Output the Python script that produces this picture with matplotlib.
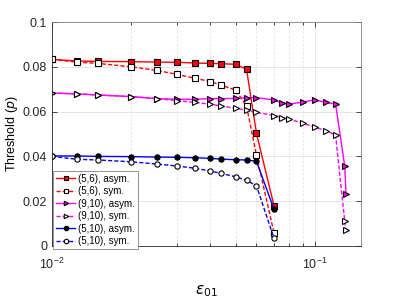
import matplotlib
matplotlib.use("agg")
import matplotlib.pyplot as plt
from matplotlib.ticker import LogLocator, FixedLocator, NullFormatter

plt.rcParams["font.family"] = ["Liberation Sans", "DejaVu Sans"]
plt.rcParams["mathtext.fontset"] = "dejavusans"

# epsilon_01 grid for the (5,6) and (5,10) codes
eps_a = [0.01, 0.0125, 0.015, 0.02, 0.025, 0.03, 0.035, 0.04, 0.044, 0.05, 0.055, 0.06, 0.07]
# epsilon_01 grid for the (9,10) code
eps_b = [0.01, 0.0125, 0.015, 0.02, 0.025, 0.03, 0.035, 0.04, 0.044, 0.05, 0.055, 0.06,
         0.07, 0.075, 0.08, 0.09, 0.1, 0.11, 0.12, 0.13, 0.1315]

p56_asym = [0.0833, 0.0826, 0.0824, 0.0823, 0.0821, 0.0820, 0.0817, 0.0815, 0.0814,
            0.0811, 0.0789, 0.0503, 0.0179]
p56_sym = [0.0833, 0.0821, 0.0815, 0.0800, 0.0784, 0.0766, 0.0749, 0.0734, 0.0719,
           0.0696, 0.0625, 0.0405, 0.0057]
p910_asym = [0.0683, 0.0679, 0.0674, 0.0667, 0.0658, 0.0655, 0.0655, 0.0658, 0.0658,
             0.0659, 0.0662, 0.0662, 0.0652, 0.0638, 0.0633, 0.0643, 0.0652, 0.0641,
             0.0634, 0.0358, 0.0232]
p910_sym = [0.0683, 0.0679, 0.0674, 0.0667, 0.0658, 0.0649, 0.0641, 0.0633, 0.0625,
            0.0615, 0.0607, 0.0597, 0.0582, 0.0573, 0.0566, 0.0548, 0.0531, 0.0515,
            0.0496, 0.0113, 0.0070]
p510_asym = [0.0402, 0.0402, 0.0400, 0.0399, 0.0397, 0.0396, 0.0394, 0.0391, 0.0388,
             0.0385, 0.0384, 0.0378, 0.0164]
p510_sym = [0.0400, 0.0387, 0.0384, 0.0376, 0.0366, 0.0357, 0.0347, 0.0335, 0.0324,
            0.0309, 0.0293, 0.0269, 0.0034]

fig = plt.figure(figsize=(3.99, 2.99), dpi=100)
ax = fig.add_axes([0.1303, 0.1773, 0.7745, 0.7491])

ms = 3.8
mew = 0.8
dash = (0, (3, 1.5))
ax.plot(eps_a, p56_asym, "-", color="red", lw=1.0, marker="s", ms=ms,
        mfc="red", mec="black", mew=mew, label="(5,6), asym.")
ax.plot(eps_a, p56_sym, ls=dash, color="red", lw=1.0, marker="s", ms=ms,
        mfc="white", mec="black", mew=mew, label="(5,6), sym.")
ax.plot(eps_b, p910_asym, "-", color="magenta", lw=1.0, marker=">", ms=ms,
        mfc="magenta", mec="black", mew=mew, label="(9,10), asym.")
ax.plot(eps_b, p910_sym, ls=dash, color="magenta", lw=1.0, marker=">", ms=ms,
        mfc="white", mec="black", mew=mew, label="(9,10), sym.")
ax.plot(eps_a, p510_asym, "-", color="blue", lw=1.0, marker="o", ms=ms,
        mfc="black", mec="black", mew=mew, label="(5,10), asym.")
ax.plot(eps_a, p510_sym, ls=dash, color="blue", lw=1.0, marker="o", ms=ms,
        mfc="white", mec="black", mew=mew, label="(5,10), sym.")

ax.set_xscale("log")
ax.set_xlim(0.01, 0.15)
ax.set_ylim(0, 0.1)
ax.xaxis.set_major_locator(FixedLocator([0.01, 0.1]))
ax.xaxis.set_major_formatter(
    matplotlib.ticker.FixedFormatter([r"$\mathregular{10^{-2}}$", r"$\mathregular{10^{-1}}$"]))
ax.xaxis.set_minor_locator(LogLocator(base=10, subs=range(2, 10)))
ax.xaxis.set_minor_formatter(NullFormatter())
ax.set_yticks([0, 0.02, 0.04, 0.06, 0.08, 0.1])
ax.set_yticklabels(["0", "0.02", "0.04", "0.06", "0.08", "0.1"])

ax.grid(True, which="major", axis="both", color="#e0e0e0", lw=0.6)
ax.grid(True, which="minor", axis="x", color="#e0e0e0", lw=0.6, ls=(0, (3, 2)))
ax.set_axisbelow(True)

ax.tick_params(axis="both", which="both", direction="in", top=True, right=True,
               labelsize=9, colors="#262626", width=0.6)
ax.tick_params(axis="both", which="major", length=3.5)
ax.tick_params(axis="x", which="minor", length=2)
ax.tick_params(axis="x", which="major", pad=8)
for sp in ax.spines.values():
    sp.set_color("#262626")
    sp.set_linewidth(0.6)
ax.spines["right"].set_color("#808080")
ax.spines["top"].set_color("#808080")

ax.set_ylabel(r"Threshold ($p$)", fontsize=9, labelpad=2)
ax.set_xlabel(r"$\epsilon_{01}$", fontsize=11, labelpad=8)

leg = ax.legend(loc="lower left", bbox_to_anchor=(0.003, -0.013), borderaxespad=0,
                fontsize=7, fancybox=False, framealpha=1, edgecolor="#808080",
                handlelength=2.0, handletextpad=0.3, labelspacing=0.25,
                borderpad=0.3, markerscale=0.85)
leg.get_frame().set_linewidth(0.6)

fig.savefig("out.png", dpi=100)
